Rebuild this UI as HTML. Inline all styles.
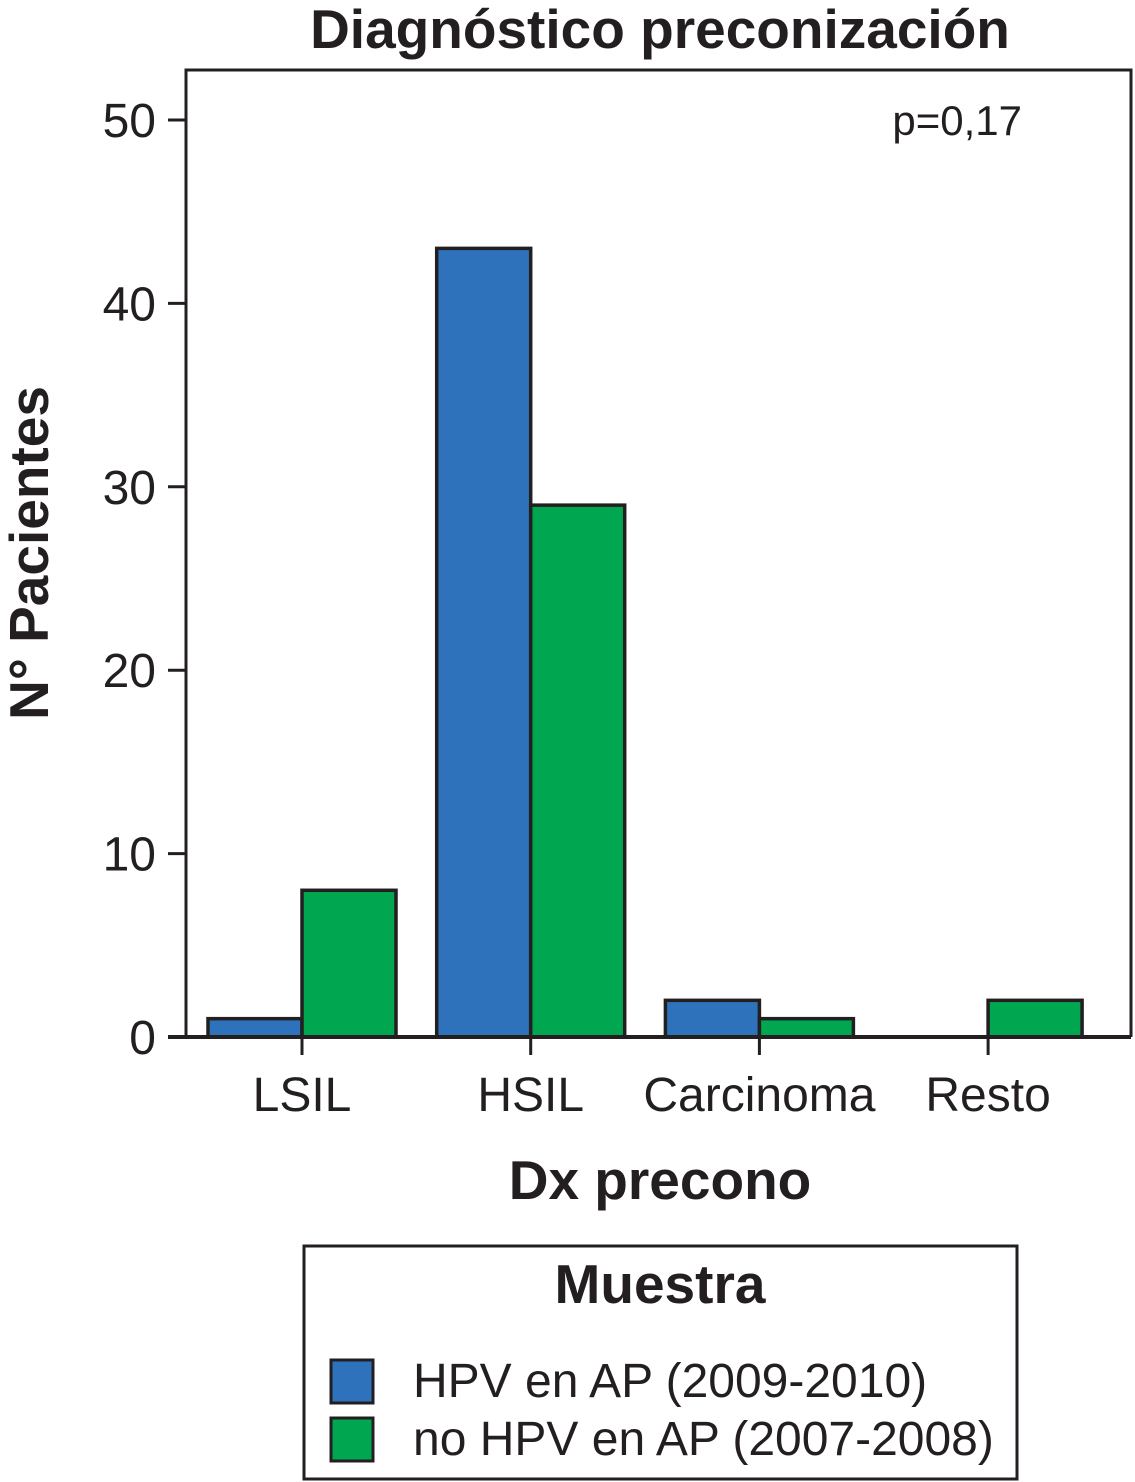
<!DOCTYPE html>
<html><head><meta charset="utf-8"><style>
html,body{margin:0;padding:0;background:#fff;}
svg{display:block;font-family:"Liberation Sans",Arial,sans-serif;}
</style></head><body>
<svg id="chart" width="1135" height="1482" viewBox="0 0 1135 1482" xmlns="http://www.w3.org/2000/svg">
<text x="660" y="48" text-anchor="middle" font-size="55" font-weight="bold" fill="#231f20">Diagnóstico preconización</text>
<g id="bars"></g>
<path d="M186,1037 L186,70 L1131,70 L1131,1037" fill="none" stroke="#231f20" stroke-width="3"/>
<line x1="168" y1="1037" x2="1131" y2="1037" stroke="#231f20" stroke-width="4"/>
<g id="yticks"></g>
<g id="xticks"></g>
<text x="1022" y="135" text-anchor="end" font-size="42" fill="#231f20">p=0,17</text>
<text transform="translate(48,553) rotate(-90)" text-anchor="middle" font-size="55" font-weight="bold" fill="#231f20">N° Pacientes</text>
<text x="660" y="1199" text-anchor="middle" font-size="55" font-weight="bold" fill="#231f20">Dx precono</text>
<g>
<rect x="304" y="1246" width="713" height="233" fill="none" stroke="#231f20" stroke-width="3"/>
<text x="660" y="1303" text-anchor="middle" font-size="55" font-weight="bold" fill="#231f20">Muestra</text>
<rect x="331" y="1360" width="42" height="43" fill="#2e72bb" stroke="#231f20" stroke-width="3"/>
<text x="413" y="1397" font-size="48" fill="#231f20">HPV en AP (2009-2010)</text>
<rect x="331" y="1418" width="42" height="43" fill="#00a650" stroke="#231f20" stroke-width="3"/>
<text x="413" y="1455" font-size="48" fill="#231f20">no HPV en AP (2007-2008)</text>
</g>
</svg>
<script>
const categories = ["LSIL", "HSIL", "Carcinoma", "Resto"];
const hpvValues = [1, 43, 2, 0];
const noHpvValues = [8, 29, 1, 2];
const yTicks = [0, 10, 20, 30, 40, 50];
const NS = "http://www.w3.org/2000/svg";
const y0 = 1037, y50 = 120;
function yScale(v){ return y0 - (y0 - y50) * v / 50; }
function xCenter(i){ return 302 + i * 228.7; }
const barW = 94;
const bars = document.getElementById("bars");
function addBar(i, v, side, color, name){
  if (v <= 0) return;
  const r = document.createElementNS(NS, "rect");
  const x = side === 0 ? xCenter(i) - barW : xCenter(i);
  r.setAttribute("x", x); r.setAttribute("y", yScale(v));
  r.setAttribute("width", barW); r.setAttribute("height", y0 - yScale(v));
  r.setAttribute("fill", color); r.setAttribute("stroke", "#231f20"); r.setAttribute("stroke-width", "3.5");
  
  
  bars.appendChild(r);
}
categories.forEach((c, i) => {
  addBar(i, hpvValues[i], 0, "#2e72bb", "bar-hpv-" + c.toLowerCase());
  addBar(i, noHpvValues[i], 1, "#00a650", "bar-no-hpv-" + c.toLowerCase());
});
const yt = document.getElementById("yticks");
yTicks.forEach(t => {
  const y = yScale(t);
  const l = document.createElementNS(NS, "line");
  l.setAttribute("x1", 168); l.setAttribute("x2", 186); l.setAttribute("y1", y); l.setAttribute("y2", y);
  l.setAttribute("stroke", "#231f20"); l.setAttribute("stroke-width", "3");
  
  
  yt.appendChild(l);
  const tx = document.createElementNS(NS, "text");
  tx.setAttribute("x", 156); tx.setAttribute("y", y + 17); tx.setAttribute("text-anchor", "end");
  tx.setAttribute("font-size", "48"); tx.setAttribute("fill", "#231f20");
  tx.textContent = t;
  
  
  yt.appendChild(tx);
});
const xt = document.getElementById("xticks");
categories.forEach((c, i) => {
  const x = xCenter(i);
  const l = document.createElementNS(NS, "line");
  l.setAttribute("x1", x); l.setAttribute("x2", x); l.setAttribute("y1", 1037); l.setAttribute("y2", 1055);
  l.setAttribute("stroke", "#231f20"); l.setAttribute("stroke-width", "3");
  
  
  xt.appendChild(l);
  const tx = document.createElementNS(NS, "text");
  tx.setAttribute("x", x); tx.setAttribute("y", 1111); tx.setAttribute("text-anchor", "middle");
  tx.setAttribute("font-size", "48"); tx.setAttribute("fill", "#231f20");
  tx.textContent = c;
  
  
  xt.appendChild(tx);
});
</script>
</body></html>
